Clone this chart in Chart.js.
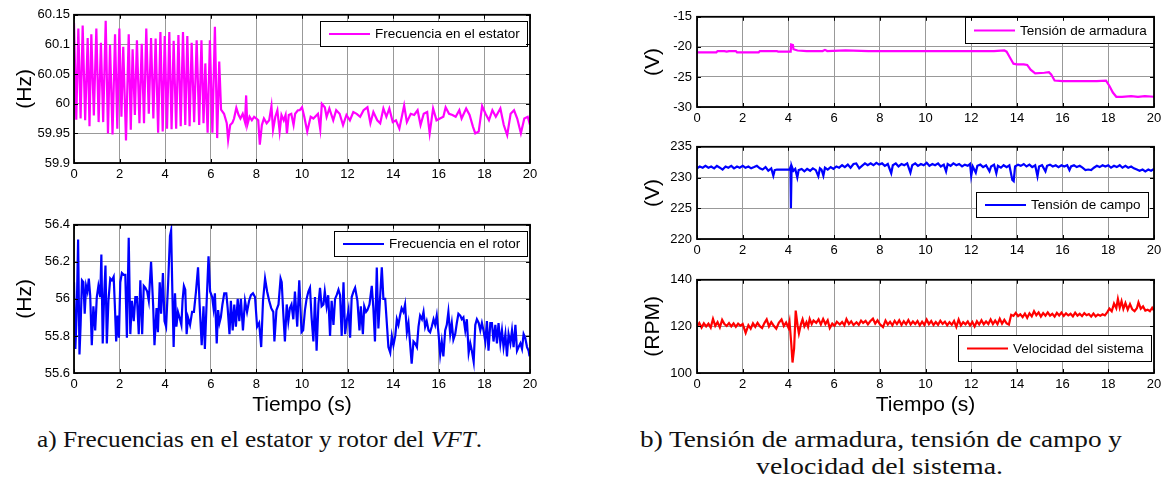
<!DOCTYPE html>
<html>
<head>
<meta charset="utf-8">
<script src="https://cdn.jsdelivr.net/npm/chart.js@4.4.1/dist/chart.umd.min.js"></script>
<style>
  html, body { margin: 0; padding: 0; background: #fff; overflow: hidden; }
  #page { position: relative; width: 1166px; height: 487px; overflow: hidden; background: #fff; }
  canvas { position: absolute; }
  .cap { position: absolute; font-family: "Liberation Serif", "DejaVu Serif", serif; font-size: 23px;
         line-height: 26px; color: #111; white-space: nowrap; transform-origin: 0 0; }
</style>
</head>
<body>
<div id="page">
  <canvas id="cStator"></canvas>
  <canvas id="cRotor"></canvas>
  <canvas id="cArm"></canvas>
  <canvas id="cField"></canvas>
  <canvas id="cSpeed"></canvas>
  <div class="cap" id="capA" data-w="445" style="left:37px;top:427px;">a) Frecuencias en el estator y rotor del <i>VFT</i>.</div>
  <div class="cap" id="capB1" data-w="482" style="left:640px;top:427px;">b) Tensión de armadura, tensión de campo y</div>
  <div class="cap" id="capB2" data-w="247" style="left:756px;top:454px;">velocidad del sistema.</div>
</div>
<script>
// ---- tick values ----
const xTicks = [0, 2, 4, 6, 8, 10, 12, 14, 16, 18, 20];
const statorTicks = [59.9, 59.95, 60, 60.05, 60.1, 60.15];
const rotorTicks = [55.6, 55.8, 56, 56.2, 56.4];
const armTicks = [-30, -25, -20, -15];
const fieldTicks = [220, 225, 230, 235];
const speedTicks = [100, 120, 140];

// ---- stator frequency (Hz) ----
const tStator = [0,0.10,0.19,0.29,0.38,0.49,0.60,0.68,0.76,0.87,0.98,1.08,1.18,1.28,1.39,1.49,1.58,1.69,1.80,1.90,
  1.99,2.08,2.16,2.28,2.40,2.49,2.57,2.67,2.76,2.87,2.97,3.07,3.17,3.28,3.38,3.48,3.58,3.69,3.79,3.89,
  3.98,4.08,4.18,4.28,4.37,4.48,4.58,4.68,4.78,4.88,4.97,5.07,5.16,5.27,5.38,5.49,5.59,5.68,5.76,5.86,
  5.96,6.07,6.18,6.28,6.37,6.45,6.58,6.70,6.76,6.85,6.95,7.02,7.12,7.22,7.30,7.40,7.50,7.55,7.60,7.70,
  7.80,7.90,8.00,8.08,8.15,8.24,8.33,8.45,8.56,8.66,8.73,8.83,8.92,9.02,9.10,9.20,9.28,9.34,9.42,9.53,
  9.63,9.70,9.82,9.90,10.00,10.10,10.23,10.38,10.50,10.70,10.80,10.87,11.00,11.08,11.20,11.37,11.50,11.65,11.80,11.95,
  12.10,12.25,12.40,12.55,12.70,12.87,13.00,13.13,13.30,13.43,13.57,13.70,13.83,13.98,14.12,14.27,14.48,14.60,14.77,14.92,
  15.07,15.20,15.34,15.49,15.60,15.75,15.90,16.05,16.20,16.30,16.45,16.60,16.74,16.90,17.00,17.20,17.35,17.50,17.60,17.75,
  17.90,18.05,18.20,18.35,18.50,18.70,18.85,19.00,19.15,19.30,19.44,19.60,19.75,19.90,20.00];
const fStator = [60.136,59.973,60.127,59.975,60.132,59.972,60.111,59.962,60.117,59.980,60.127,59.969,60.103,59.969,60.140,59.950,60.099,59.948,60.117,59.958,
  60.127,59.978,60.096,59.938,60.117,59.956,60.092,59.981,60.107,59.967,60.101,59.967,60.127,59.983,60.111,59.975,60.110,59.951,60.121,59.953,
  60.114,59.958,60.121,59.957,60.106,59.958,60.116,59.962,60.121,59.964,60.114,59.962,60.103,59.969,60.107,59.964,60.107,59.967,60.068,59.951,
  60.107,59.951,60.130,59.942,60.071,59.990,59.983,59.967,59.939,59.964,59.968,59.975,59.993,59.981,59.975,59.983,59.969,60.014,59.964,59.978,
  59.972,59.978,59.975,59.972,59.931,59.964,59.975,59.967,59.972,59.996,59.956,59.978,59.989,59.953,59.981,59.972,59.981,59.950,59.981,59.983,
  59.964,59.983,59.989,59.989,59.994,59.978,59.953,59.978,59.975,59.983,59.957,60.000,59.994,59.978,59.992,59.972,59.989,59.983,59.964,59.981,
  59.972,59.986,59.983,59.978,59.989,59.994,59.967,59.986,59.972,59.967,59.992,59.978,59.992,59.969,59.972,59.958,59.997,59.969,59.983,59.981,
  59.989,59.964,59.983,59.986,59.950,59.992,59.972,59.975,59.978,59.994,59.983,59.981,59.978,59.989,59.975,59.992,59.981,59.961,59.950,59.953,
  59.996,59.983,59.972,59.989,59.978,59.992,59.964,59.947,59.983,59.989,59.975,59.950,59.975,59.978,59.964];

// ---- rotor frequency (Hz) ----
const tRotor = [0,0.06,0.12,0.18,0.24,0.29,0.35,0.41,0.47,0.53,0.59,0.65,0.71,0.78,0.85,0.93,1.00,1.07,1.15,1.20,
  1.26,1.32,1.38,1.44,1.51,1.59,1.66,1.74,1.79,1.85,1.91,1.97,2.03,2.10,2.18,2.25,2.32,2.40,2.47,2.54,
  2.62,2.69,2.76,2.84,2.91,2.99,3.06,3.13,3.21,3.28,3.38,3.47,3.53,3.62,3.68,3.76,3.82,3.90,3.97,4.04,
  4.13,4.21,4.26,4.31,4.37,4.43,4.49,4.56,4.63,4.71,4.76,4.82,4.88,4.94,5.00,5.09,5.18,5.26,5.35,5.44,
  5.51,5.60,5.68,5.74,5.82,5.90,5.97,6.06,6.12,6.18,6.26,6.32,6.38,6.44,6.51,6.59,6.68,6.74,6.82,6.88,
  6.96,7.03,7.10,7.18,7.25,7.32,7.41,7.50,7.59,7.68,7.76,7.85,7.94,8.03,8.12,8.21,8.29,8.38,8.47,8.56,
  8.65,8.74,8.79,8.88,8.97,9.06,9.11,9.18,9.25,9.33,9.40,9.47,9.54,9.62,9.69,9.79,9.88,9.98,10.05,10.13,
  10.20,10.28,10.35,10.42,10.50,10.57,10.64,10.72,10.79,10.86,10.94,11.00,11.08,11.15,11.23,11.30,11.38,11.45,11.52,11.60,
  11.67,11.74,11.82,11.89,11.96,12.04,12.11,12.18,12.26,12.33,12.43,12.52,12.58,12.67,12.73,12.81,12.87,12.96,13.06,13.13,
  13.20,13.28,13.35,13.43,13.50,13.57,13.65,13.72,13.79,13.87,13.94,14.01,14.09,14.16,14.23,14.30,14.37,14.45,14.52,14.60,
  14.67,14.74,14.81,14.89,14.96,15.04,15.11,15.18,15.26,15.33,15.40,15.47,15.55,15.62,15.69,15.77,15.84,15.91,15.99,16.06,
  16.13,16.20,16.28,16.35,16.42,16.50,16.57,16.64,16.72,16.79,16.86,16.94,17.01,17.08,17.16,17.23,17.31,17.38,17.45,17.53,
  17.60,17.67,17.75,17.82,17.89,17.96,18.04,18.11,18.18,18.26,18.33,18.40,18.48,18.55,18.62,18.70,18.77,18.84,18.92,18.99,
  19.06,19.14,19.21,19.28,19.36,19.43,19.50,19.58,19.65,19.72,19.79,19.87,19.94,19.98];
const fRotor = [56.09,55.73,55.93,56.32,55.70,55.86,56.10,56.09,55.92,56.07,56.04,56.11,56.02,55.75,55.96,55.83,56.01,56.07,56.01,56.24,
  55.76,56.01,56.18,55.76,55.99,56.11,56.10,56.12,55.97,55.77,55.91,55.79,56.09,56.14,56.13,56.13,55.79,56.33,55.81,55.99,
  55.88,56.01,56.01,55.81,56.10,55.81,56.07,56.06,56.04,55.99,56.20,55.97,55.75,55.95,55.82,56.09,55.92,56.14,55.88,55.85,
  56.09,56.34,56.37,56.06,55.74,56.03,55.85,55.93,55.90,55.86,55.99,56.07,56.05,55.81,55.90,55.86,55.93,55.93,56.04,56.17,
  55.97,55.75,55.96,55.73,55.99,56.23,56.04,56.01,55.95,56.03,55.76,55.94,55.87,55.90,55.97,56.03,56.03,55.95,55.81,55.99,
  55.83,55.97,55.85,56.00,55.88,56.00,55.83,55.99,55.93,55.99,56.02,56.03,56.01,55.85,55.87,55.74,55.99,56.11,56.04,55.99,
  55.95,55.93,55.77,55.94,55.97,56.11,56.09,55.92,55.77,55.97,55.88,55.95,55.97,55.89,56.04,55.85,56.10,55.82,55.83,55.94,
  56.00,56.04,56.06,55.90,55.77,56.01,55.72,55.97,56.06,55.96,55.97,56.04,55.96,56.02,55.80,55.99,55.86,56.00,56.02,56.05,
  56.02,55.80,56.09,55.81,55.88,55.94,55.79,56.01,56.04,56.06,55.99,55.83,55.96,55.81,55.96,55.93,55.94,55.97,56.07,55.95,
  55.77,56.17,55.84,56.02,56.17,56.00,56.00,55.87,55.74,55.71,55.80,55.75,55.80,55.89,55.86,55.91,55.95,55.93,55.97,55.82,
  55.87,55.76,55.65,55.77,55.76,55.74,55.85,55.91,55.89,55.93,55.85,55.88,55.83,55.82,55.85,55.89,55.86,55.91,55.81,55.70,
  55.77,55.69,55.83,55.86,55.93,55.81,55.87,55.78,55.81,55.87,55.92,55.91,55.89,55.90,55.83,55.89,55.71,55.76,55.72,55.66,
  55.86,55.89,55.87,55.83,55.87,55.83,55.77,55.88,55.72,55.87,55.87,55.77,55.86,55.76,55.87,55.76,55.83,55.74,55.81,55.69,
  55.81,55.76,55.83,55.74,55.86,55.72,55.74,55.76,55.73,55.81,55.79,55.74,55.72,55.69];

// ---- armature voltage (V) ----
const tArm = [0,0.5,0.85,0.9,1.2,1.3,1.4,1.7,1.75,2.0,2.5,2.7,2.75,3.0,3.5,3.55,4.0,4.1,4.12,4.2,
  4.22,4.4,4.8,5.5,5.6,5.7,6.5,7.5,8.5,9.5,10.5,11.5,12.5,13.0,13.45,13.55,13.7,13.85,14.0,14.3,
  14.45,14.6,14.8,15.2,15.4,15.5,15.65,16.0,16.5,17.0,17.5,17.9,18.05,18.2,18.35,18.6,19.0,19.3,19.6,20.0];
const vArm = [-20.9,-20.9,-20.9,-20.7,-20.7,-20.8,-20.7,-20.7,-20.9,-20.9,-20.9,-20.9,-20.7,-20.7,-20.7,-20.8,-20.8,-20.8,-19.6,-19.7,
  -20.4,-20.6,-20.7,-20.7,-20.5,-20.7,-20.6,-20.7,-20.7,-20.7,-20.7,-20.7,-20.7,-20.7,-20.6,-20.8,-21.8,-22.8,-22.9,-22.9,
  -23.0,-23.8,-24.4,-24.3,-24.2,-24.6,-25.6,-25.7,-25.7,-25.7,-25.7,-25.6,-26.5,-27.6,-28.3,-28.3,-28.2,-28.3,-28.2,-28.3];

// ---- field voltage (V) ----
const tField = [0,0.12,0.25,0.37,0.50,0.62,0.75,0.87,1.00,1.12,1.25,1.37,1.50,1.62,1.75,1.87,2.00,2.12,2.25,2.37,
  2.50,2.62,2.75,2.87,3.00,3.12,3.25,3.34,3.40,3.50,4.05,4.09,4.11,4.14,4.22,4.30,4.39,4.45,4.58,4.70,
  4.82,4.95,5.07,5.20,5.31,5.38,5.45,5.53,5.60,5.72,5.85,5.97,6.10,6.22,6.35,6.47,6.60,6.72,6.85,6.97,
  7.10,7.22,7.35,7.47,7.60,7.72,7.85,7.97,8.10,8.22,8.35,8.50,8.57,8.70,8.82,8.95,9.07,9.20,9.34,9.42,
  9.55,9.67,9.80,9.92,10.05,10.17,10.30,10.42,10.55,10.67,10.80,10.90,10.97,11.10,11.22,11.35,11.47,11.60,11.72,11.85,
  11.95,12.00,12.07,12.20,12.27,12.40,12.52,12.65,12.80,12.87,13.00,13.10,13.17,13.30,13.42,13.55,13.67,13.80,13.86,13.92,
  14.05,14.17,14.30,14.42,14.55,14.67,14.80,14.90,14.97,15.10,15.25,15.32,15.45,15.57,15.70,15.82,15.95,16.07,16.20,16.30,
  16.37,16.50,16.62,16.75,16.87,17.00,17.12,17.25,17.37,17.50,17.62,17.75,17.87,18.00,18.12,18.25,18.37,18.50,18.62,18.75,
  18.87,19.00,19.12,19.25,19.37,19.50,19.62,19.75,19.87,20.00];
const vField = [231.5,231.8,231.6,231.9,231.6,231.8,231.5,231.9,231.6,231.3,231.8,231.6,231.9,231.5,231.8,231.6,231.9,231.6,231.8,231.5,
  231.7,231.9,231.5,231.3,231.7,231.1,231.5,230.3,231.2,231.3,231.3,231.7,225.0,231.9,231.1,231.4,230.0,231.2,231.4,231.0,
  231.4,231.1,231.5,231.2,230.2,231.5,231.3,230.3,231.6,231.3,231.7,231.4,231.8,231.6,232.0,231.7,232.1,231.6,232.2,232.3,
  231.5,231.9,232.3,232.0,232.3,232.0,232.4,232.1,232.3,231.9,232.2,230.7,232.0,232.3,231.8,232.2,232.0,232.3,230.8,232.0,
  232.3,231.9,232.2,232.0,232.4,231.9,232.2,232.0,232.3,231.8,232.1,231.0,232.2,231.9,232.3,232.0,232.2,231.8,232.1,231.9,
  232.2,230.3,231.8,230.8,231.9,232.1,231.7,232.0,231.0,231.8,232.1,230.7,231.9,231.6,232.0,231.7,232.0,229.6,229.4,231.8,
  232.1,231.9,232.2,231.8,232.1,231.7,232.0,230.2,231.8,232.0,231.0,231.9,232.1,231.8,232.0,231.7,232.0,231.8,232.0,231.2,
  231.8,232.0,231.7,231.9,231.6,231.2,231.3,231.2,231.6,231.9,231.7,232.0,231.8,232.0,231.6,231.9,231.7,232.0,231.6,231.9,
  231.6,231.8,231.5,231.3,231.1,231.3,231.0,231.3,231.1,231.4];

// ---- system speed (RPM) ----
const tSpeed = [0,0.10,0.20,0.30,0.40,0.50,0.60,0.70,0.80,0.90,1.00,1.10,1.20,1.30,1.40,1.50,1.60,1.70,1.80,1.90,
  2.00,2.13,2.25,2.35,2.45,2.55,2.65,2.75,2.85,2.95,3.05,3.15,3.25,3.35,3.47,3.58,3.70,3.80,3.90,4.00,
  4.05,4.13,4.18,4.25,4.32,4.40,4.46,4.55,4.62,4.70,4.79,4.86,4.93,5.02,5.10,5.22,5.32,5.42,5.52,5.62,
  5.72,5.81,5.92,6.02,6.12,6.25,6.35,6.45,6.54,6.65,6.75,6.85,6.98,7.08,7.18,7.27,7.38,7.48,7.58,7.70,
  7.80,7.90,8.00,8.14,8.25,8.35,8.45,8.55,8.65,8.75,8.85,8.95,9.05,9.15,9.25,9.35,9.45,9.55,9.65,9.75,
  9.85,9.95,10.05,10.15,10.25,10.35,10.45,10.55,10.65,10.75,10.85,10.95,11.05,11.15,11.25,11.35,11.45,11.55,11.65,11.75,
  11.85,11.95,12.05,12.15,12.25,12.35,12.45,12.55,12.65,12.75,12.85,12.95,13.05,13.15,13.25,13.35,13.45,13.55,13.65,13.75,
  13.85,13.95,14.05,14.15,14.25,14.35,14.45,14.55,14.65,14.75,14.85,14.95,15.05,15.15,15.25,15.35,15.45,15.55,15.65,15.75,
  15.85,15.95,16.05,16.15,16.25,16.35,16.45,16.55,16.65,16.75,16.85,16.95,17.05,17.15,17.25,17.35,17.45,17.55,17.65,17.75,
  17.85,17.95,18.05,18.15,18.25,18.35,18.42,18.50,18.58,18.66,18.75,18.85,18.95,19.05,19.15,19.25,19.32,19.42,19.52,19.62,
  19.72,19.82,19.92,20.00];
const vSpeed = [120.0,121.5,119.5,121.3,120.0,121.2,119.5,123.2,120.2,121.8,119.6,122.8,121.0,120.2,121.4,120.0,121.3,119.8,121.2,120.3,
  121.0,117.2,120.5,119.0,121.3,119.8,121.5,120.1,119.3,121.4,123.0,120.0,121.8,120.4,119.0,121.5,123.0,120.2,121.7,119.5,
  122.0,112.0,104.5,110.5,126.8,120.5,117.0,121.0,123.0,120.0,121.8,119.8,123.2,121.0,122.5,121.5,123.0,120.8,123.2,121.0,
  122.6,119.3,121.2,120.3,122.0,120.8,121.9,120.5,123.1,121.0,122.2,120.6,121.8,120.7,122.5,121.5,122.4,120.9,122.2,123.3,
  121.2,122.6,121.0,119.7,122.5,120.8,122.0,120.5,122.4,121.0,122.6,120.6,122.2,120.9,122.7,120.8,122.1,121.0,122.3,120.5,
  122.0,120.6,122.9,121.0,122.3,120.6,121.9,120.7,122.4,121.1,122.0,120.5,121.8,120.7,122.3,119.8,122.9,120.4,121.8,120.9,
  122.1,120.4,121.9,120.0,122.2,120.8,122.6,120.9,122.1,121.0,123.0,121.0,122.5,121.0,123.3,121.2,122.8,121.3,120.8,125.0,
  124.5,125.8,124.4,125.2,124.0,125.5,123.7,125.6,124.3,126.5,124.8,126.0,124.2,125.7,124.6,126.0,124.6,125.4,124.2,125.8,
  124.7,125.9,124.5,125.6,124.7,125.4,124.3,125.9,124.6,125.4,124.4,125.7,124.8,125.3,124.2,125.5,124.3,125.1,124.6,125.2,
  124.7,126.0,127.6,126.5,129.8,127.8,131.7,128.0,130.8,127.5,130.0,127.2,129.6,127.3,126.5,127.8,130.3,127.6,128.6,126.8,
  127.2,126.5,128.0,126.8];

// ---- drawing helpers ----
const SANS = '"Liberation Sans", Arial, sans-serif';
const GRID = '#999999';

// axes box with inward tick marks on all four sides
const framePlugin = {
  id: 'frame',
  afterDraw(chart) {
    const { ctx, chartArea: a, scales } = chart;
    ctx.save();
    ctx.strokeStyle = '#000';
    ctx.lineWidth = 1;
    ctx.beginPath();
    scales.x.ticks.forEach(t => {
      const px = Math.round(scales.x.getPixelForValue(t.value)) + 0.5;
      ctx.moveTo(px, a.bottom); ctx.lineTo(px, a.bottom - 4);
      ctx.moveTo(px, a.top); ctx.lineTo(px, a.top + 4);
    });
    scales.y.ticks.forEach(t => {
      const py = Math.round(scales.y.getPixelForValue(t.value)) + 0.5;
      ctx.moveTo(a.left, py); ctx.lineTo(a.left + 4, py);
      ctx.moveTo(a.right, py); ctx.lineTo(a.right - 4, py);
    });
    ctx.stroke();
    ctx.lineWidth = 1.8;
    ctx.strokeRect(a.left, a.top, a.right - a.left, a.bottom - a.top);
    ctx.restore();
  }
};

// boxed legend placed inside the axes
const boxLegendPlugin = {
  id: 'boxLegend',
  afterDatasetsDraw(chart, args, opts) {
    const { ctx, chartArea: a } = chart;
    const ds = chart.data.datasets[0];
    ctx.save();
    ctx.font = '13.5px ' + SANS;
    const tw = ctx.measureText(ds.label).width;
    const w = Math.round(tw + 62), h = opts.h;
    const x = Math.round(a.right - opts.dx - w), y = Math.round(a.top + opts.dy);
    ctx.fillStyle = '#fff';
    ctx.fillRect(x, y, w, h);
    ctx.strokeStyle = '#000';
    ctx.lineWidth = 1;
    ctx.strokeRect(x + 0.5, y + 0.5, w, h);
    ctx.strokeStyle = ds.borderColor;
    ctx.lineWidth = 2;
    ctx.beginPath();
    ctx.moveTo(x + 9, y + h / 2 + 0.5);
    ctx.lineTo(x + 50, y + h / 2 + 0.5);
    ctx.stroke();
    ctx.fillStyle = '#000';
    ctx.textBaseline = 'middle';
    ctx.textAlign = 'left';
    ctx.fillText(ds.label, x + 55, y + h / 2 + 1);
    ctx.restore();
  }
};

function makeChart(id, c) {
  const cv = document.getElementById(id);
  cv.width = c.w; cv.height = c.h;
  cv.style.left = c.left + 'px';
  cv.style.top = c.top + 'px';
  cv.style.width = c.w + 'px';
  cv.style.height = c.h + 'px';
  const pts = c.t.map((t, i) => ({ x: t, y: c.v[i] }));
  return new Chart(cv, {
    type: 'line',
    data: { datasets: [{ label: c.label, data: pts, borderColor: c.color, borderWidth: 2.2,
      pointRadius: 0, tension: 0, fill: false }] },
    options: {
      responsive: false, animation: false, devicePixelRatio: 1,
      layout: { padding: { top: 10, right: 14, left: 0, bottom: 0 } },
      plugins: { legend: { display: false }, tooltip: { enabled: false },
        boxLegend: c.legend },
      scales: {
        x: {
          type: 'linear', min: 0, max: 20,
          afterBuildTicks: s => { s.ticks = xTicks.map(v => ({ value: v })); },
          afterFit: s => { s.height = c.xAxisH; },
          ticks: { color: '#000', font: { family: SANS, size: 13 }, padding: 4, maxRotation: 0,
            callback: v => String(v) },
          grid: { color: GRID, lineWidth: 1, drawTicks: false },
          border: { display: false },
          title: { display: !!c.xTitle, text: c.xTitle || '', color: '#000', padding: 0,
            font: { family: SANS, size: 21, lineHeight: 1.2 } }
        },
        y: {
          type: 'linear', min: c.yTicks[0], max: c.yTicks[c.yTicks.length - 1],
          afterBuildTicks: s => { s.ticks = c.yTicks.map(v => ({ value: v })); },
          afterFit: s => { s.width = c.yAxisW; },
          ticks: { color: '#000', font: { family: SANS, size: 13 }, padding: c.yPad,
            callback: v => String(v) },
          grid: { color: GRID, lineWidth: 1, drawTicks: false },
          border: { display: false },
          title: { display: true, text: c.yTitle, color: '#000', padding: 0,
            font: { family: SANS, size: 21, lineHeight: 1.2 } }
        }
      }
    },
    plugins: [boxLegendPlugin, framePlugin]
  });
}

// plot areas: left column x 74..530, right column x 697..1154
makeChart('cStator', { left: 13, top: 3, w: 531, h: 182, yAxisW: 61, xAxisH: 22, yPad: 4,
  t: tStator, v: fStator, color: '#ff00ff', label: 'Frecuencia en el estator',
  yTicks: statorTicks, yTitle: '(Hz)', legend: { dx: 3, dy: 6, h: 25 } });
makeChart('cRotor', { left: 13, top: 213, w: 531, h: 205, yAxisW: 61, xAxisH: 45, yPad: 4,
  t: tRotor, v: fRotor, color: '#0000ff', label: 'Frecuencia en el rotor',
  yTicks: rotorTicks, yTitle: '(Hz)', xTitle: 'Tiempo (s)', legend: { dx: 3, dy: 6, h: 25 } });
makeChart('cArm', { left: 641, top: 4, w: 527, h: 125, yAxisW: 56, xAxisH: 22, yPad: 5,
  t: tArm, v: vArm, color: '#ff00ff', label: 'Tensión de armadura',
  yTicks: armTicks, yTitle: '(V)', legend: { dx: 0, dy: 0, h: 26 } });
makeChart('cField', { left: 641, top: 134, w: 527, h: 127, yAxisW: 56, xAxisH: 22, yPad: 5,
  t: tField, v: vField, color: '#0000ff', label: 'Tensión de campo',
  yTicks: fieldTicks, yTitle: '(V)', legend: { dx: 6, dy: 45, h: 25 } });
makeChart('cSpeed', { left: 641, top: 267, w: 527, h: 151, yAxisW: 56, xAxisH: 45, yPad: 5,
  t: tSpeed, v: vSpeed, color: '#ff0000', label: 'Velocidad del sistema',
  yTicks: speedTicks, yTitle: '(RPM)', xTitle: 'Tiempo (s)', legend: { dx: 3, dy: 55, h: 26 } });

// stretch the caption lines to their set widths
document.querySelectorAll('.cap').forEach(el => {
  const natural = el.getBoundingClientRect().width;
  const target = +el.dataset.w;
  if (natural > 0) el.style.transform = 'scaleX(' + (target / natural).toFixed(4) + ')';
});
</script>
</body>
</html>
